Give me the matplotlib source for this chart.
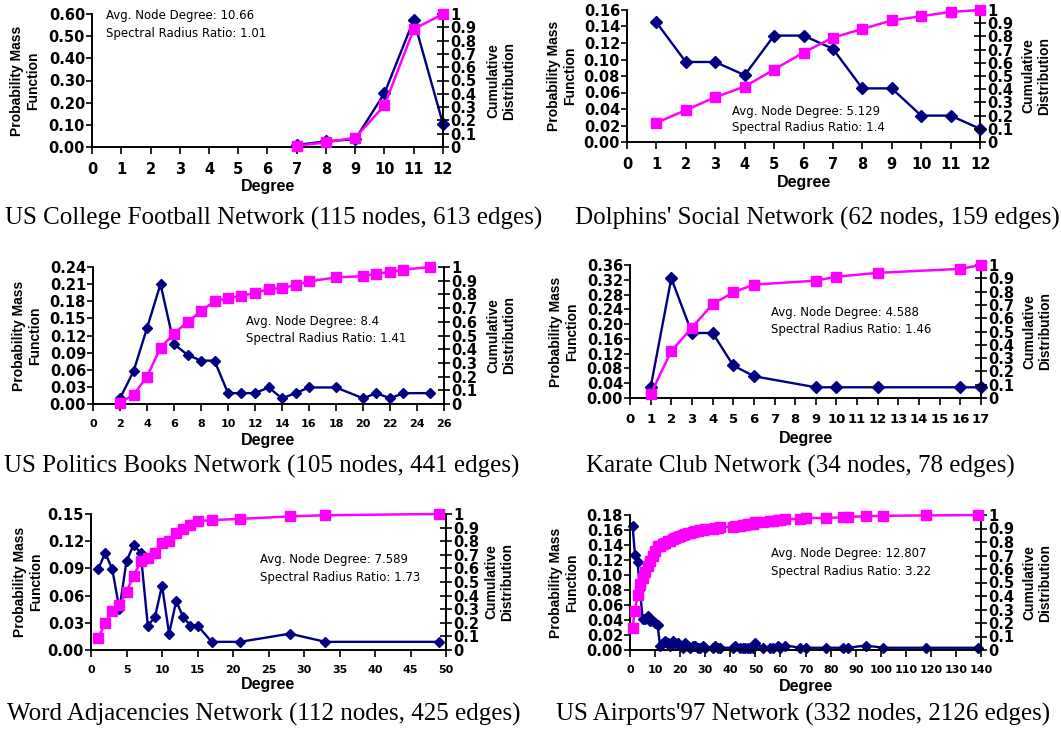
import matplotlib
import matplotlib.pyplot as plt
import numpy as np
from matplotlib.ticker import FuncFormatter

matplotlib.use("Agg")

W, H = 1061, 731
NAVY = "#000080"
MAGENTA = "#ff00ff"

# ---- data ----
football_deg = [7, 8, 9, 10, 11, 12]
football_pmf = [0.009, 0.026, 0.035, 0.243, 0.574, 0.104]
football_cdf = [0.009, 0.035, 0.070, 0.313, 0.887, 1.000]

dolphins_deg = [1, 2, 3, 4, 5, 6, 7, 8, 9, 10, 11, 12]
dolphins_pmf = [0.145, 0.097, 0.097, 0.081, 0.129, 0.129, 0.113, 0.065, 0.065, 0.032, 0.032, 0.016]
dolphins_cdf = [0.145, 0.242, 0.339, 0.420, 0.549, 0.678, 0.791, 0.856, 0.921, 0.953, 0.985, 1.000]

politics_deg = [2, 3, 4, 5, 6, 7, 8, 9, 10, 11, 12, 13, 14, 15, 16, 18, 20, 21, 22, 23, 25]
politics_pmf = [0.010, 0.057, 0.133, 0.210, 0.105, 0.086, 0.076, 0.076, 0.019, 0.019, 0.019,
                0.029, 0.010, 0.019, 0.029, 0.029, 0.010, 0.019, 0.010, 0.019, 0.019]
politics_cdf = [0.010, 0.067, 0.200, 0.410, 0.514, 0.600, 0.676, 0.752, 0.771, 0.790, 0.810,
                0.838, 0.848, 0.867, 0.895, 0.924, 0.933, 0.952, 0.962, 0.981, 1.000]

karate_deg = [1, 2, 3, 4, 5, 6, 9, 10, 12, 16, 17]
karate_pmf = [0.029, 0.324, 0.176, 0.176, 0.088, 0.059, 0.029, 0.029, 0.029, 0.029, 0.029]
karate_cdf = [0.029, 0.353, 0.529, 0.706, 0.794, 0.853, 0.882, 0.912, 0.941, 0.971, 1.000]

word_deg = [1, 2, 3, 4, 5, 6, 7, 8, 9, 10, 11, 12, 13, 14, 15, 17, 21, 28, 33, 49]
word_pmf = [0.089, 0.107, 0.089, 0.045, 0.098, 0.116, 0.107, 0.027, 0.036, 0.071,
            0.018, 0.054, 0.036, 0.027, 0.027, 0.009, 0.009, 0.018, 0.009, 0.009]
word_cdf = [0.089, 0.196, 0.286, 0.330, 0.429, 0.545, 0.652, 0.679, 0.714, 0.786,
            0.804, 0.857, 0.893, 0.920, 0.946, 0.955, 0.964, 0.982, 0.991, 1.000]

airports_deg = [1, 2, 3, 4, 5, 6, 7, 8, 9, 10, 11, 12, 13, 14, 15, 16, 17, 18, 19, 20,
                21, 22, 23, 24, 25, 26, 27, 28, 29, 30, 33, 34, 35, 36, 41, 42, 44, 45, 46, 47,
                48, 49, 50, 53, 56, 57, 59, 60, 62, 68, 70, 78, 85, 87, 94, 101, 118, 139]
airports_pmf = [0.166, 0.127, 0.117, 0.081, 0.042, 0.042, 0.045, 0.039, 0.039, 0.036,
                0.033, 0.006, 0.009, 0.012, 0.009, 0.006, 0.012, 0.009, 0.009, 0.006,
                0.003, 0.009, 0.006, 0.003, 0.006, 0.006, 0.003, 0.003, 0.006, 0.003,
                0.003, 0.006, 0.003, 0.003, 0.003, 0.006, 0.003, 0.003, 0.003, 0.003,
                0.003, 0.003, 0.009, 0.003, 0.003, 0.003, 0.006, 0.003, 0.006, 0.003,
                0.003, 0.003, 0.003, 0.003, 0.006, 0.003, 0.003, 0.003]
airports_cdf = [0.166, 0.292, 0.410, 0.491, 0.533, 0.575, 0.620, 0.660, 0.699, 0.735,
                0.768, 0.774, 0.783, 0.795, 0.804, 0.810, 0.822, 0.831, 0.840, 0.846,
                0.849, 0.858, 0.864, 0.867, 0.873, 0.880, 0.883, 0.886, 0.892, 0.895,
                0.898, 0.904, 0.907, 0.910, 0.913, 0.919, 0.922, 0.925, 0.928, 0.931,
                0.934, 0.937, 0.946, 0.949, 0.952, 0.955, 0.961, 0.964, 0.970, 0.973,
                0.976, 0.979, 0.982, 0.985, 0.991, 0.994, 0.997, 1.000]

captions = [
    "US College Football Network (115 nodes, 613 edges)",
    "Dolphins' Social Network (62 nodes, 159 edges)",
    "US Politics Books Network (105 nodes, 441 edges)",
    "Karate Club Network (34 nodes, 78 edges)",
    "Word Adjacencies Network (112 nodes, 425 edges)",
    "US Airports'97 Network (332 nodes, 2126 edges)",
]
avg_degree = ["10.66", "5.129", "8.4", "4.588", "7.589", "12.807"]
radius_ratio = ["1.01", "1.4", "1.41", "1.46", "1.73", "3.22"]

series = [
    (football_deg, football_pmf, football_cdf),
    (dolphins_deg, dolphins_pmf, dolphins_cdf),
    (politics_deg, politics_pmf, politics_cdf),
    (karate_deg, karate_pmf, karate_cdf),
    (word_deg, word_pmf, word_cdf),
    (airports_deg, airports_pmf, airports_cdf),
]

# layout in pixels: plot box (left, right, top, bottom), axis ranges, text spots
layout = [
    dict(box=(92, 443, 14, 147), xmax=12, xstep=1, ymax=0.60, ny=6, xfs=10.5, xpad=6, ms=(6, 7.5),
         note=(106, 15, 33), lab=(25, 501), deg_y=186, cap=(274, 218)),
    dict(box=(627, 980, 10, 142), xmax=12, xstep=1, ymax=0.16, ny=8, xfs=10.5, xpad=6, ms=(6, 7.5),
         note=(732, 111, 128), lab=(562, 1036), deg_y=183, cap=(817, 218)),
    dict(box=(93, 444, 267, 404), xmax=26, xstep=2, ymax=0.24, ny=8, xfs=8, xpad=6, ms=(5, 6.5),
         note=(246, 321, 338), lab=(27, 501), deg_y=440, cap=(262, 466)),
    dict(box=(630, 981, 265, 398), xmax=17, xstep=1, ymax=0.36, ny=9, xfs=9.5, xpad=6, ms=(6, 7.5),
         note=(771, 313, 330), lab=(564, 1037), deg_y=438, cap=(800, 466)),
    dict(box=(91, 446, 514, 650), xmax=50, xstep=5, ymax=0.15, ny=5, xfs=8, xpad=6, ms=(5, 6.5),
         note=(260, 560, 577), lab=(28, 499), deg_y=685, cap=(264, 714)),
    dict(box=(630, 981, 515, 650), xmax=140, xstep=10, ymax=0.18, ny=9, xfs=8, xpad=6, ms=(5, 6.5),
         note=(771, 553, 571), lab=(564, 1037), deg_y=686, cap=(803, 714)),
]


def fx(x):
    return x / W


def fy(y):
    return 1 - y / H


def cdf_fmt(v, _):
    if abs(v) < 1e-9:
        return "0"
    if abs(v - 1) < 1e-9:
        return "1"
    return f"{v:.1f}"


def draw_panel(fig, cfg, deg, pmf, cdf, caption, avg, ratio):
    left, right, top, bottom = cfg["box"]
    ax = fig.add_axes([fx(left), fy(bottom), (right - left) / W, (bottom - top) / H])
    ax.plot(deg, pmf, color=NAVY, lw=1.7, marker="D", ms=cfg["ms"][0], clip_on=False, zorder=3)
    ax.set_xlim(0, cfg["xmax"])
    ax.set_ylim(0, cfg["ymax"])
    ax.set_xticks(np.arange(0, cfg["xmax"] + 0.01, cfg["xstep"]))
    ax.set_yticks(np.linspace(0, cfg["ymax"], cfg["ny"] + 1))
    ax.yaxis.set_major_formatter(FuncFormatter(lambda v, _: f"{v:.2f}"))
    ax.tick_params(axis="y", direction="out", length=4, width=1.2, labelsize=10.5, pad=1)
    ax.tick_params(axis="x", direction="out", length=5, width=1.2, labelsize=cfg["xfs"],
                   pad=cfg["xpad"])

    ax2 = ax.twinx()
    ax2.plot(deg, cdf, color=MAGENTA, lw=1.8, marker="s", ms=cfg["ms"][1], clip_on=False, zorder=3)
    ax2.set_ylim(0, 1)
    ax2.set_yticks(np.linspace(0, 1, 11))
    ax2.yaxis.set_major_formatter(FuncFormatter(cdf_fmt))
    ax2.tick_params(axis="y", direction="inout", length=8, width=1.2, labelsize=10.5, pad=1)

    for a in (ax, ax2):
        a.spines["top"].set_visible(False)
        for s in ("left", "right", "bottom"):
            a.spines[s].set_linewidth(1.2)

    mid = (top + bottom) / 2
    fig.text(fx(cfg["lab"][0]), fy(mid), "Probability Mass\nFunction", rotation=90,
             ha="center", va="center", family="Liberation Sans", fontsize=10,
             fontweight="bold", linespacing=1.2)
    fig.text(fx(cfg["lab"][1]), fy(mid), "Cumulative\nDistribution", rotation=90,
             ha="center", va="center", family="Liberation Sans", fontsize=10,
             fontweight="bold", linespacing=1.2)
    fig.text(fx((left + right) / 2), fy(cfg["deg_y"]), "Degree", ha="center", va="center",
             family="Liberation Sans", fontsize=11.5, fontweight="bold")

    nx, ny1, ny2 = cfg["note"]
    fig.text(fx(nx), fy(ny1), f"Avg. Node Degree: {avg}", ha="left", va="center",
             fontsize=8.5, fontweight="normal")
    fig.text(fx(nx), fy(ny2), f"Spectral Radius Ratio: {ratio}", ha="left", va="center",
             fontsize=8.5, fontweight="normal")

    fig.text(fx(cfg["cap"][0]), fy(cfg["cap"][1]), caption, ha="center", va="center",
             family="Liberation Serif", fontsize=18, fontweight="normal")


plt.rcParams["font.family"] = ["DejaVu Sans"]
plt.rcParams["font.weight"] = "bold"

fig = plt.figure(figsize=(W / 100, H / 100), dpi=100)
for cfg, (deg, pmf, cdf), cap, avg, ratio in zip(layout, series, captions, avg_degree, radius_ratio):
    draw_panel(fig, cfg, deg, pmf, cdf, cap, avg, ratio)

fig.savefig("out.png", dpi=100)
